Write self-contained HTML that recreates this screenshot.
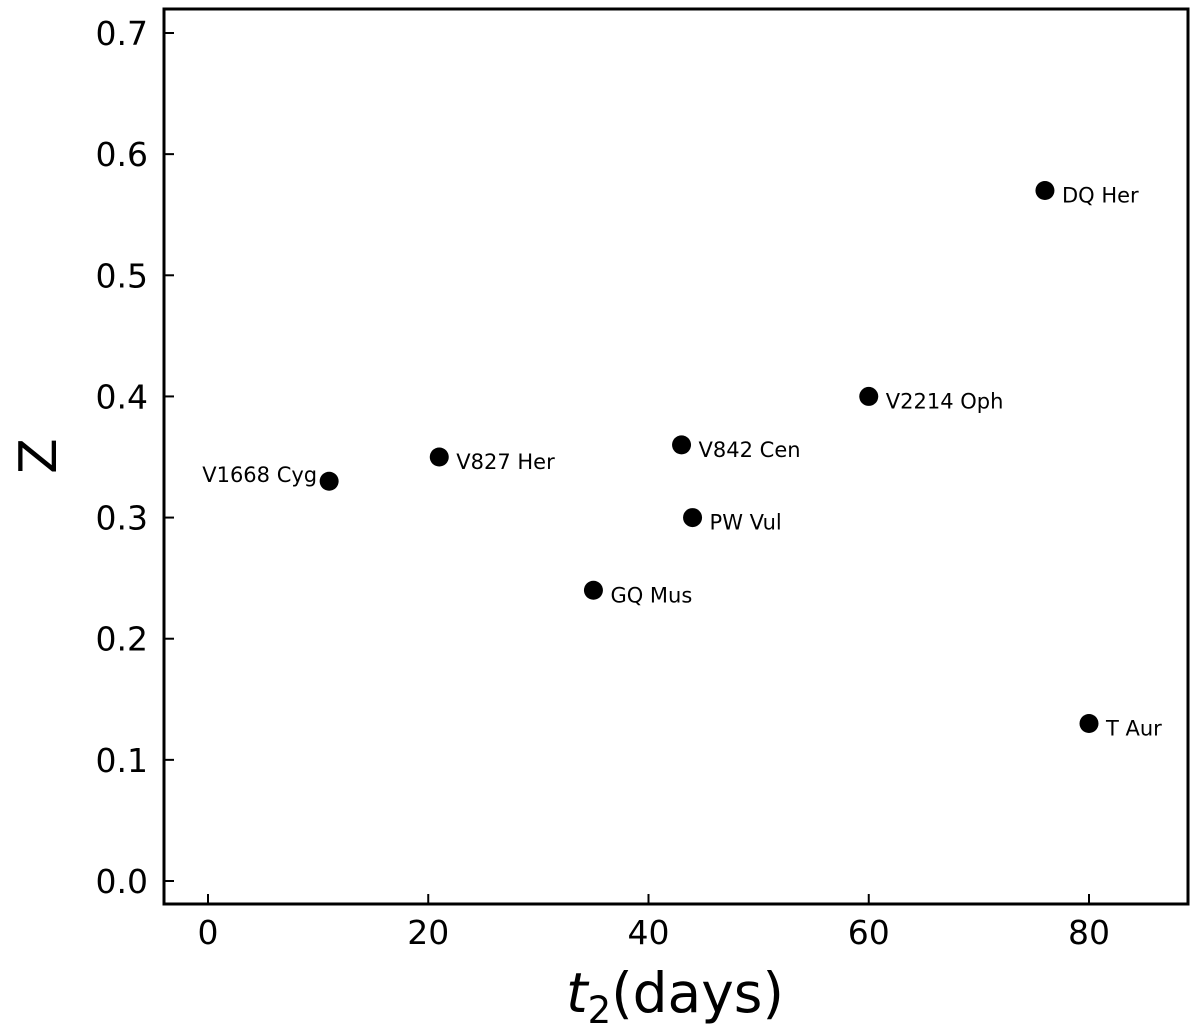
<!DOCTYPE html>
<html><head><meta charset="utf-8"><style>
body{margin:0;background:#fff;}
svg{display:block;font-family:"DejaVu Sans","Liberation Sans",sans-serif;}
</style></head><body>
<svg id="chart" width="1200" height="1025">
<g id="ticks"></g>
<g id="points"></g>
<rect x="164" y="9" width="1024" height="895" fill="none" stroke="#000" stroke-width="3"/>
<text x="675" y="1012" font-size="55" text-anchor="middle"><tspan font-style="italic">t</tspan><tspan font-size="37" dy="11">2</tspan><tspan dy="-11">(days)</tspan></text>
<text transform="translate(56,456) rotate(-90)" font-size="52" text-anchor="middle">Z</text>
</svg>
<script>
const names=["V1668 Cyg","V827 Her","GQ Mus","V842 Cen","PW Vul","V2214 Oph","DQ Her","T Aur"];
const t2=[11,21,35,43,44,60,76,80];
const zVals=[0.33,0.35,0.24,0.36,0.30,0.40,0.57,0.13];
const xTicks=[0,20,40,60,80];
const yTicks=[0,0.1,0.2,0.3,0.4,0.5,0.6,0.7];
const X=v=>208+v*(1089-208)/80;
const Y=v=>881-v*(881-33)/0.7;
const NS="http://www.w3.org/2000/svg";
const tg=document.getElementById('ticks'),pg=document.getElementById('points');
function mk(tag,attrs,parent){const e=document.createElementNS(NS,tag);for(const k in attrs)e.setAttribute(k,attrs[k]);parent.appendChild(e);return e;}
xTicks.forEach(v=>{
 const l=mk('line',{x1:X(v),x2:X(v),y1:904,y2:894,stroke:'#000','stroke-width':2},tg);
 
 
 const t=mk('text',{x:X(v),y:944,'font-size':33,'text-anchor':'middle'},tg);t.textContent=v;
 
 
});
yTicks.forEach(v=>{
 const l=mk('line',{x1:164,x2:174,y1:Y(v),y2:Y(v),stroke:'#000','stroke-width':2},tg);
 
 
 const t=mk('text',{x:148,y:Y(v)+12,'font-size':33,'text-anchor':'end'},tg);t.textContent=v.toFixed(1);
 
 
});
names.forEach((n,i)=>{
 const c=mk('circle',{cx:X(t2[i]),cy:Y(zVals[i]),r:9.5,fill:'#000'},pg);
 
 
 const left=i===0;
 const t=mk('text',{x:left?X(t2[i])-12:X(t2[i])+17,y:left?Y(zVals[i])+1:Y(zVals[i])+12,'font-size':21,'text-anchor':left?'end':'start'},pg);
 t.textContent=n;
 
 
});
</script>
</body></html>
